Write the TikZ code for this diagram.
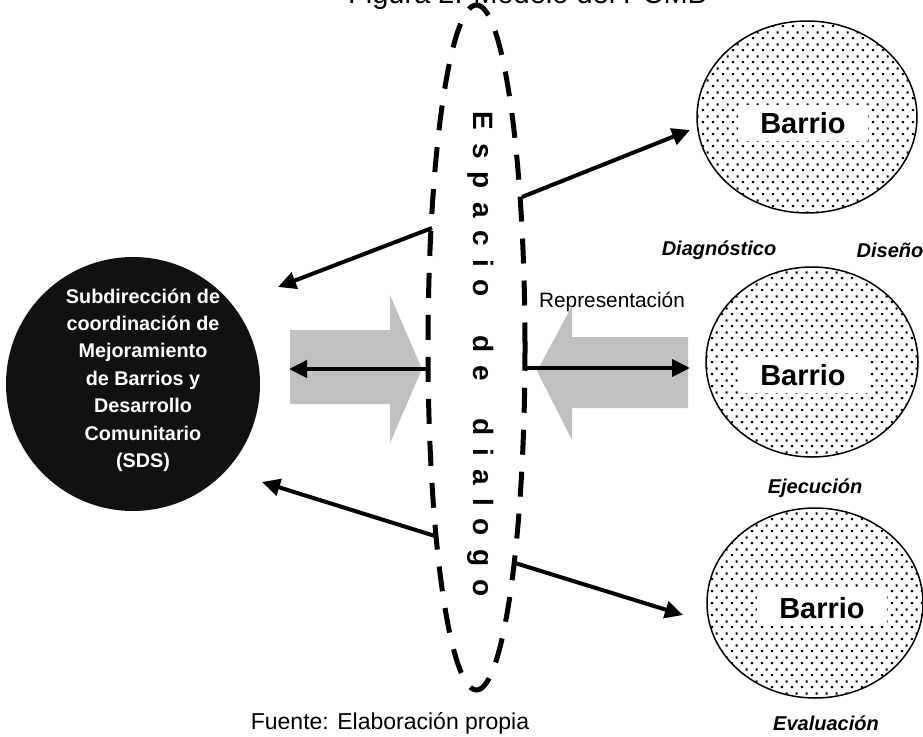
\documentclass[tikz,border=0pt]{standalone}
\usepackage{fontspec}
\setmainfont{Liberation Sans}
\usetikzlibrary{shapes.geometric,arrows.meta,patterns.meta}
\definecolor{garrow}{RGB}{192,192,192}
\definecolor{sdsblack}{RGB}{17,17,17}
\tikzdeclarepattern{
  name=bdots,
  type=uncolored,
  bottom left={(0pt,0pt)},
  top right={(9.6pt,12pt)},
  tile size={(9.6pt,12pt)},
  code={
    \pgfpathrectangle{\pgfpoint{1pt}{1pt}}{\pgfpoint{2.2pt}{2.2pt}}
    \pgfpathrectangle{\pgfpoint{5.8pt}{7pt}}{\pgfpoint{2.2pt}{2.2pt}}
    \pgfusepath{fill}
  }
}
\tikzset{
  barrio/.style={ellipse, draw, line width=1.5pt, pattern=bdots, inner sep=0pt},
  btext/.style={fill=white, font=\bfseries\fontsize{29}{29}\selectfont, inner xsep=22pt, inner ysep=7pt},
  lab/.style={font=\bfseries\itshape\fontsize{20}{20}\selectfont},
  blk/.style={line width=4pt, -{Triangle[length=18pt,width=17pt]}},
  gblock/.style={fill=garrow, draw=none},
  espacio/.style={ellipse, draw, line width=5pt, dash pattern=on 25pt off 17pt, inner sep=0pt}
}
\begin{document}
\begin{tikzpicture}[x=1pt,y=-1pt]
\path[use as bounding box] (0,0) rectangle (923,736);

% title (cropped at the top)
\node[anchor=base west, font=\fontsize{29}{29}\selectfont, inner sep=0] (title) at (348,3) {Figura 2. Modelo del PCMB};

% SDS circle
\node[circle, fill=sdsblack, minimum size=254pt, inner sep=0] (sds) at (133,384) {};
\node[text=white, align=center, font=\bfseries\fontsize{19.8}{27.4}\selectfont] (sdstext) at (143,380)
  {Subdirección de\\coordinación de\\Mejoramiento\\de Barrios y\\Desarrollo\\Comunitario\\(SDS)};

% Barrio ellipses
\node[barrio, minimum width=220pt, minimum height=192pt] (b1) at (807,117) {};
\node[btext] (b1t) at (803,123) {Barrio};
\node[barrio, minimum width=212pt, minimum height=190pt] (b2) at (812,362) {};
\node[btext] (b2t) at (803,375) {Barrio};
\node[barrio, minimum width=216pt, minimum height=190pt] (b3) at (815,603) {};
\node[btext] (b3t) at (822,608) {Barrio};

% labels
\node[lab] (diag) at (719,250) {Diagnóstico};
\node[lab] (dise) at (890,250) {Diseño};
\node[lab] (ejec) at (815,488) {Ejecución};
\node[lab] (eval) at (826,723) {Evaluación};
\node[font=\fontsize{20.8}{20.8}\selectfont] (repr) at (612,302) {Representación};
\node[font=\fontsize{23}{23}\selectfont] (src) at (390,723) {Fuente: Elaboración propia};

% grey block arrows
\path[gblock] (290,330) -- (390,330) -- (390,295) -- (422,369) -- (390,443) -- (390,404) -- (290,404) -- cycle;
\path[gblock] (688,337) -- (572,337) -- (572,306) -- (537,371) -- (572,440) -- (572,408) -- (688,408) -- cycle;

% dashed ellipse: Espacio de dialogo
\node[espacio, minimum width=97pt, minimum height=685pt] (esp) at (476.5,347.5) {};
\node[rotate=-90, font=\bfseries\fontsize{28}{28}\selectfont, inner sep=0] (vt) at (481,354)
  {\spaceskip=13pt E s p a c i o\hspace{38pt}d e\hspace{38pt}d i a l o g o};

% black arrows
\coordinate (s1) at (432,228);  \coordinate (e1) at (278,287);
\coordinate (s2) at (522,197);  \coordinate (e2) at (690,130);
\coordinate (s3) at (427,369);  \coordinate (e3) at (289,369);
\coordinate (s4) at (527,368);  \coordinate (e4) at (690,368);
\coordinate (s5) at (435,536);  \coordinate (e5) at (262,482);
\coordinate (s6) at (515,563);  \coordinate (e6) at (683,615);
\draw[blk] (s1) -- (e1);
\draw[blk] (s2) -- (e2);
\draw[blk] (s3) -- (e3);
\draw[blk] (s4) -- (e4);
\draw[blk] (s5) -- (e5);
\draw[blk] (s6) -- (e6);
\end{tikzpicture}
\end{document}
